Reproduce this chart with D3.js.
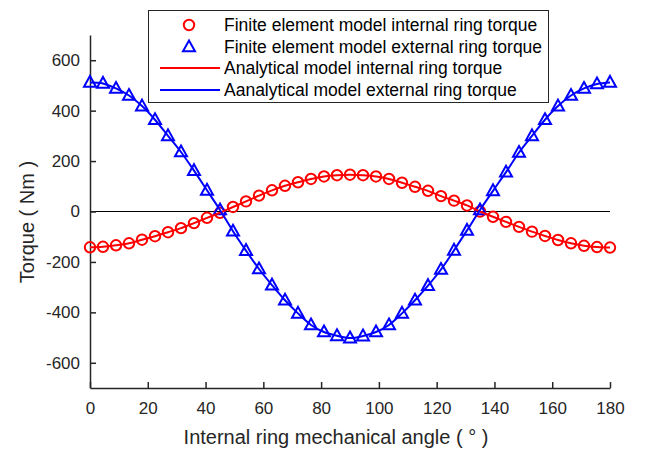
<!DOCTYPE html>
<html>
<head>
<meta charset="utf-8">
<script src="https://cdn.jsdelivr.net/npm/d3@7"></script>
<style>
  body { margin: 0; background: #fff; }
  svg { display: block; font-family: "Liberation Sans", Arial, sans-serif; }
</style>
</head>
<body>
<svg id="chart" width="648" height="450"></svg>
<script>
// angle in degrees, one sample every 4.5 deg
var angles = d3.range(41).map(function(i) { return i * 4.5; });

// finite element, internal ring torque (Nm)
var feInternal = [-142, -140, -134, -126, -112, -98, -82, -66, -46, -25, -5,
                  18, 40, 63, 84, 102, 116, 129, 139, 144, 146,
                  144, 139, 129, 114, 98, 82, 61, 43, 24, 0,
                  -21, -41, -61, -80, -97, -113, -126, -136, -141, -143];
// finite element, external ring torque (Nm)
var feExternal = [512, 508, 488, 460, 418, 364, 300, 236, 162, 84, 6,
                  -78, -155, -228, -292, -352, -404, -450, -478, -493, -502,
                  -494, -478, -450, -404, -352, -294, -230, -154, -75, 6,
                  82, 156, 234, 300, 364, 418, 460, 488, 506, 512];
// analytical model curves (same sampling)
var anInternal = feInternal.slice();
var anExternal = feExternal.slice();

var xTicks = [0, 20, 40, 60, 80, 100, 120, 140, 160, 180];
var yTicks = [-600, -400, -200, 0, 200, 400, 600];
var legendLabels = [
  "Finite element model internal ring torque",
  "Finite element model external ring torque",
  "Analytical model internal ring torque",
  "Aanalytical model external ring torque"
];

var svg = d3.select("#chart"),
    axisColor = "#262626",
    red = "#ff0000",
    blue = "#0000ff";

var x = d3.scaleLinear().domain([0, 180]).range([90, 610]),
    y = d3.scaleLinear().domain([-700, 700]).range([388, 35]);

/* zero line */
svg.append("line")
    .attr("x1", x(0)).attr("x2", x(180))
    .attr("y1", y(0)).attr("y2", y(0))
    .attr("stroke", "#000").attr("stroke-width", 1);

/* axes */
var xAxis = svg.append("g")
    .attr("transform", "translate(0," + y(-700) + ")")
    .call(d3.axisBottom(x).tickValues(xTicks).tickFormat(String)
        .tickSizeInner(-6).tickSizeOuter(0).tickPadding(14));
var yAxis = svg.append("g")
    .attr("transform", "translate(" + x(0) + ",0)")
    .call(d3.axisLeft(y).tickValues(yTicks).tickFormat(String)
        .tickSizeInner(-6).tickSizeOuter(0).tickPadding(10));

[xAxis, yAxis].forEach(function(a) {
    a.select(".domain").attr("stroke", axisColor).attr("stroke-width", 1.5);
    a.selectAll(".tick line").attr("stroke", axisColor).attr("stroke-width", 1.5);
    a.selectAll(".tick text").attr("fill", axisColor).style("font-size", "17px")
        .style("font-family", "'Liberation Sans', Arial, sans-serif");
});

svg.append("text")
    .attr("x", 336).attr("y", 444)
    .attr("text-anchor", "middle")
    .attr("fill", axisColor)
    .style("font-size", "20px")
    .text("Internal ring mechanical angle ( ° )");

svg.append("text")
    .attr("transform", "translate(34,222) rotate(-90)")
    .attr("text-anchor", "middle")
    .attr("fill", axisColor)
    .style("font-size", "20px")
    .text("Torque ( Nm )");

/* markers */
function triPath(cx, cy, s) {
    var h = s * 0.9;
    return "M" + cx + "," + (cy - h * 0.6) +
           "L" + (cx + s / 2) + "," + (cy + h * 0.4) +
           "L" + (cx - s / 2) + "," + (cy + h * 0.4) + "Z";
}

svg.append("g").selectAll("circle")
    .data(feInternal).enter().append("circle")
    .attr("cx", function(d, i) { return x(angles[i]); })
    .attr("cy", function(d) { return y(d); })
    .attr("r", 5.2)
    .attr("fill", "none").attr("stroke", red).attr("stroke-width", 2);

svg.append("g").selectAll("path")
    .data(feExternal).enter().append("path")
    .attr("d", function(d, i) { return triPath(x(angles[i]), y(d), 12); })
    .attr("fill", "none").attr("stroke", blue).attr("stroke-width", 2);

/* analytical lines */
var line = d3.line()
    .x(function(d, i) { return x(angles[i]); })
    .y(function(d) { return y(d); })
    .curve(d3.curveCatmullRom);

svg.append("path").datum(anInternal)
    .attr("d", line).attr("fill", "none").attr("stroke", red).attr("stroke-width", 2);
svg.append("path").datum(anExternal)
    .attr("d", line).attr("fill", "none").attr("stroke", blue).attr("stroke-width", 2);

/* legend */
var lg = svg.append("g");
lg.append("rect")
    .attr("x", 148.5).attr("y", 10.5).attr("width", 400).attr("height", 92)
    .attr("fill", "#fff").attr("stroke", axisColor).attr("stroke-width", 1);

var rowY = [25, 47, 68, 90];
lg.append("circle").attr("cx", 189).attr("cy", rowY[0]).attr("r", 5.2)
    .attr("fill", "none").attr("stroke", red).attr("stroke-width", 2);
lg.append("path").attr("d", triPath(189, rowY[1], 12))
    .attr("fill", "none").attr("stroke", blue).attr("stroke-width", 2);
lg.append("line").attr("x1", 160).attr("x2", 220).attr("y1", rowY[2]).attr("y2", rowY[2])
    .attr("stroke", red).attr("stroke-width", 2);
lg.append("line").attr("x1", 160).attr("x2", 220).attr("y1", rowY[3]).attr("y2", rowY[3])
    .attr("stroke", blue).attr("stroke-width", 2);

lg.selectAll("text.lab")
    .data(legendLabels).enter().append("text")
    .attr("class", "lab")
    .attr("x", 224)
    .attr("y", function(d, i) { return rowY[i]; })
    .attr("dy", "0.36em")
    .attr("fill", "#000")
    .style("font-size", "17.5px")
    .text(function(d) { return d; });
</script>
</body>
</html>
